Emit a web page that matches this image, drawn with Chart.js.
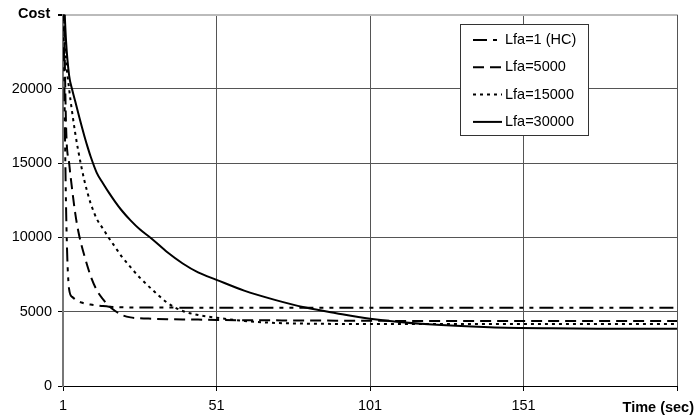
<!DOCTYPE html>
<html>
<head>
<meta charset="utf-8">
<script src="https://cdn.jsdelivr.net/npm/chart.js@4.4.1/dist/chart.umd.min.js"></script>
<style>
  html, body { margin: 0; padding: 0; background: #fff; }
  #wrap { width: 695px; height: 419px; position: relative; }
</style>
</head>
<body>
<div id="wrap"><canvas id="grafico"></canvas></div>
<script>
// ==========================================
// 0. DATOS
// ==========================================
const tiempos = [1, 2, 3, 4, 5, 6, 7, 8, 9, 10, 12, 14, 16, 18, 20, 23, 26, 30, 35, 40, 45, 51, 60, 70, 80, 90, 101, 120, 140, 160, 180, 201];

const costoHC = [28200, 12000, 6500, 6000, 5830, 5700, 5620, 5560, 5510, 5480, 5430, 5380, 5340, 5320, 5300, 5290, 5285, 5280, 5280, 5275, 5275, 5270, 5270, 5270, 5270, 5270, 5270, 5270, 5270, 5270, 5270, 5270];
const costo5000 = [30000, 17500, 15000, 13200, 11600, 10400, 9500, 8750, 8050, 7400, 6450, 5850, 5380, 5050, 4800, 4620, 4560, 4530, 4500, 4480, 4470, 4450, 4430, 4420, 4410, 4400, 4390, 4380, 4375, 4375, 4375, 4375];
const costo15000 = [26500, 22000, 20000, 18400, 17000, 15800, 14750, 13800, 13000, 12300, 11250, 10600, 9950, 9350, 8750, 8000, 7300, 6500, 5600, 5050, 4780, 4600, 4380, 4250, 4200, 4180, 4170, 4170, 4170, 4180, 4180, 4180];
const costo30000 = [27700, 23200, 20900, 19950, 19150, 18350, 17550, 16800, 16100, 15450, 14350, 13650, 13000, 12400, 11850, 11150, 10550, 9900, 9000, 8250, 7650, 7150, 6420, 5800, 5280, 4900, 4530, 4150, 3950, 3880, 3860, 3850];

const etiquetasSerie = ['Lfa=1 (HC)', 'Lfa=5000', 'Lfa=15000', 'Lfa=30000'];
const ticksX = [1, 51, 101, 151, 201];
const tituloX = 'Time (sec)';
const tituloY = 'Cost';

const fuente = '"Liberation Sans", Arial, sans-serif';

// ==========================================
// 1. TEXTOS DE EJES Y LEYENDA (a mano)
// ==========================================
const extras = {
    id: 'extras',
    afterDraw(chart) {
        const ctx = chart.ctx;
        ctx.save();
        ctx.fillStyle = '#000';
        ctx.font = 'bold 14.5px ' + fuente;
        ctx.textBaseline = 'middle';
        ctx.textAlign = 'left';
        ctx.fillText(tituloY, 18, 14);
        ctx.textAlign = 'right';
        ctx.fillText(tituloX, 694, 408);

        // --- Leyenda ---
        ctx.fillStyle = '#fff';
        ctx.fillRect(460, 24, 128, 111);
        ctx.strokeStyle = '#333';
        ctx.lineWidth = 1;
        ctx.strokeRect(460.5, 24.5, 128, 111);
        ctx.font = '14.5px ' + fuente;
        ctx.textAlign = 'left';
        chart.data.datasets.forEach(function(ds, i) {
            const y = 40 + i * 27.3;
            ctx.strokeStyle = '#000';
            ctx.lineWidth = 2;
            ctx.setLineDash(ds.borderDash || []);
            ctx.beginPath();
            ctx.moveTo(473, y);
            ctx.lineTo(502, y);
            ctx.stroke();
            ctx.setLineDash([]);
            ctx.fillStyle = '#000';
            ctx.fillText(ds.label, 505, y);
        });
        ctx.restore();
    }
};

function serie(label, valores, dash) {
    return {
        label: label,
        data: tiempos.map(function(t, i) { return { x: t, y: valores[i] }; }),
        borderColor: '#000',
        borderWidth: 2,
        borderDash: dash,
        pointRadius: 0,
        cubicInterpolationMode: 'monotone',
        fill: false
    };
}

// ==========================================
// 2. GRÁFICO
// ==========================================
new Chart(document.getElementById('grafico'), {
    type: 'line',
    data: {
        datasets: [
            serie(etiquetasSerie[0], costoHC, [14, 6, 4, 6, 4, 6]),
            serie(etiquetasSerie[1], costo5000, [11, 6]),
            serie(etiquetasSerie[2], costo15000, [3, 4]),
            serie(etiquetasSerie[3], costo30000, [])
        ]
    },
    options: {
        responsive: true,
        maintainAspectRatio: false,
        animation: false,
        layout: { padding: { top: 5, right: 18, left: 0, bottom: 0 } },
        plugins: { legend: { display: false }, tooltip: { enabled: false } },
        scales: {
            x: {
                type: 'linear',
                min: 1, max: 201,
                afterBuildTicks: function(scale) { scale.ticks = ticksX.map(function(v) { return { value: v }; }); },
                afterFit: function(scale) { scale.height = 33; },
                grid: { color: '#555', lineWidth: 1, tickLength: 5, tickColor: '#000' },
                border: { color: '#000', width: 1 },
                ticks: {
                    color: '#000', padding: 6, maxRotation: 0, autoSkip: false,
                    font: { family: fuente, size: 14.5 },
                    callback: function(v) { return v === 201 ? '' : String(v); }
                }
            },
            y: {
                min: 0, max: 25000,
                afterFit: function(scale) { scale.width = 63; },
                grid: {
                    color: function(c) { return c.tick && c.tick.value === 25000 ? '#bbb' : '#555'; },
                    lineWidth: function(c) { return c.tick && c.tick.value === 25000 ? 2 : 1; },
                    tickLength: 5, tickColor: '#000'
                },
                border: { color: '#777', width: 2 },
                ticks: {
                    stepSize: 5000, color: '#000', padding: 6,
                    font: { family: fuente, size: 14.5 },
                    callback: function(v) { return v === 25000 ? '' : String(v); }
                }
            }
        }
    },
    plugins: [extras]
});
</script>
</body>
</html>
